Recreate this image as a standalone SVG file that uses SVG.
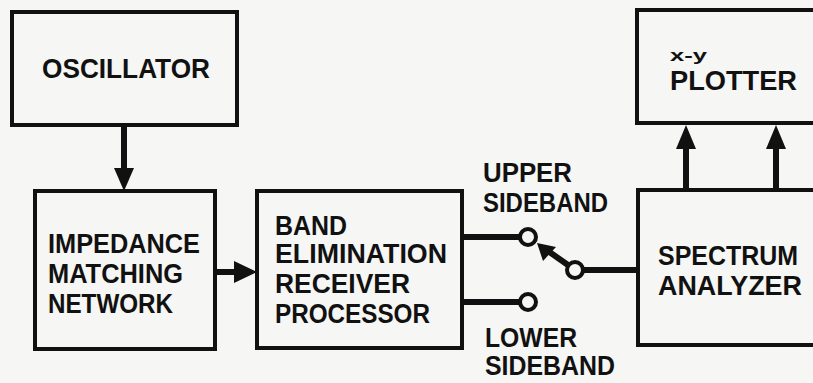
<svg xmlns="http://www.w3.org/2000/svg" width="813" height="383" viewBox="0 0 813 383">
<defs>
<style>
.box{fill:none;stroke:#111;stroke-width:4}
.t{font-family:"Liberation Sans",Arial,sans-serif;font-weight:bold;font-size:27px;fill:#111}
.s{font-size:17px}
.ln{stroke:#111;stroke-width:6;fill:none}
.ah{fill:#111}
.sw{fill:#f6f6f4;stroke:#111;stroke-width:4}
</style>
</defs>
<rect width="813" height="383" fill="#f6f6f4"/>
<g id="oscillator">
<rect class="box" x="12" y="12" width="225" height="113"/>
<text class="t" x="42" y="78" textLength="168" lengthAdjust="spacingAndGlyphs">OSCILLATOR</text>
</g>
<g id="impedance">
<rect class="box" x="35" y="191" width="180" height="158"/>
<text class="t" x="48" y="253" textLength="152" lengthAdjust="spacingAndGlyphs">IMPEDANCE</text>
<text class="t" x="48" y="283" textLength="135" lengthAdjust="spacingAndGlyphs">MATCHING</text>
<text class="t" x="48" y="313" textLength="125" lengthAdjust="spacingAndGlyphs">NETWORK</text>
</g>
<g id="processor">
<rect class="box" x="257" y="191" width="205" height="157"/>
<text class="t" x="275" y="235" textLength="72" lengthAdjust="spacingAndGlyphs">BAND</text>
<text class="t" x="275" y="263" textLength="172" lengthAdjust="spacingAndGlyphs">ELIMINATION</text>
<text class="t" x="275" y="293" textLength="135" lengthAdjust="spacingAndGlyphs">RECEIVER</text>
<text class="t" x="275" y="323" textLength="155" lengthAdjust="spacingAndGlyphs">PROCESSOR</text>
</g>
<g id="spectrum">
<rect class="box" x="638" y="190" width="200" height="155"/>
<text class="t" x="658" y="265" textLength="140" lengthAdjust="spacingAndGlyphs">SPECTRUM</text>
<text class="t" x="658" y="295" textLength="144" lengthAdjust="spacingAndGlyphs">ANALYZER</text>
</g>
<g id="plotter">
<rect class="box" x="637" y="10" width="200" height="113"/>
<text class="t s" x="670" y="61" textLength="37" lengthAdjust="spacingAndGlyphs">x-y</text>
<text class="t" x="670" y="90" textLength="127" lengthAdjust="spacingAndGlyphs">PLOTTER</text>
</g>
<g id="labels">
<text class="t" x="483" y="182" textLength="89" lengthAdjust="spacingAndGlyphs">UPPER</text>
<text class="t" x="483" y="212" textLength="125" lengthAdjust="spacingAndGlyphs">SIDEBAND</text>
<text class="t" x="485" y="347" textLength="92" lengthAdjust="spacingAndGlyphs">LOWER</text>
<text class="t" x="485" y="375" textLength="130" lengthAdjust="spacingAndGlyphs">SIDEBAND</text>
</g>
<g id="connectors">
<line class="ln" x1="124" y1="125" x2="124" y2="172"/>
<polygon class="ah" points="114,168 134,168 124,191"/>
<line class="ln" x1="215" y1="272" x2="238" y2="272"/>
<polygon class="ah" points="234,261 234,283 257,272"/>
<line class="ln" x1="686" y1="190" x2="686" y2="145"/>
<polygon class="ah" points="676,149 696,149 686,125"/>
<line class="ln" x1="776" y1="190" x2="776" y2="145"/>
<polygon class="ah" points="766,149 786,149 776,125"/>
<line class="ln" x1="462" y1="237" x2="520" y2="237"/>
<line class="ln" x1="462" y1="302" x2="520" y2="302"/>
<line class="ln" x1="583" y1="270" x2="638" y2="270"/>
<line class="ln" x1="568" y1="265" x2="548" y2="251"/>
<polygon class="ah" points="537,243 543,261 556,247"/>
<circle class="sw" cx="528" cy="237" r="8"/>
<circle class="sw" cx="528" cy="302" r="8"/>
<circle class="sw" cx="575" cy="270" r="8"/>
</g>
</svg>
